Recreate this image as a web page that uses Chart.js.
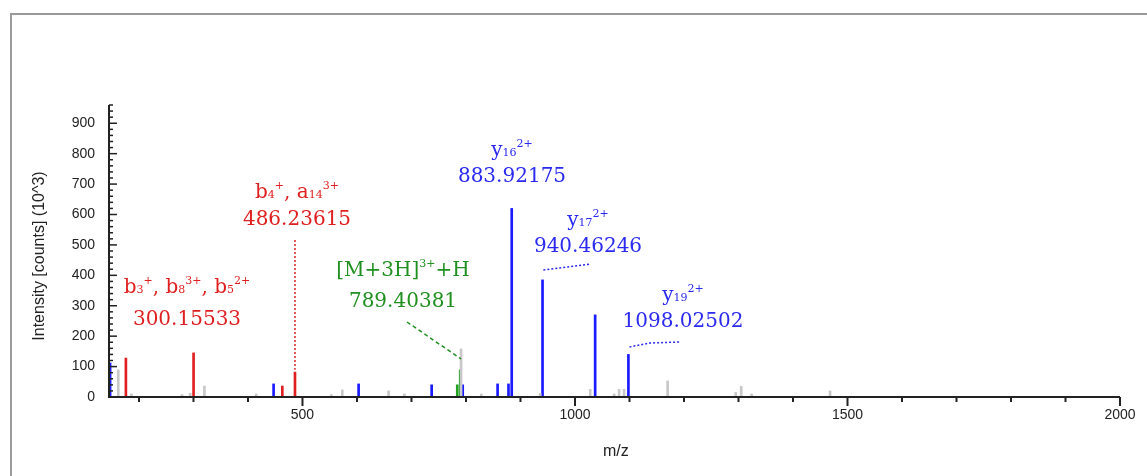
<!DOCTYPE html>
<html><head><meta charset="utf-8">
<script src="https://cdn.jsdelivr.net/npm/chart.js@4"></script>
<style>html,body{margin:0;padding:0;background:#fff}#wrap{width:1147px;height:476px;position:relative}</style>
</head><body><div id="wrap"><canvas id="c"></canvas></div>
<script>
const xTickLabels = [500, 1000, 1500, 2000];
const yTickLabels = [0,100,200,300,400,500,600,700,800,900];
const blueMz = [147, 447, 603, 737, 794, 858, 878, 883.92, 940.46, 1037, 1098.03];
const blueI  = [112, 43, 43, 40, 40, 43, 43, 620, 385, 270, 140];
const redMz  = [176, 300.16, 463, 486.24];
const redI   = [128, 145, 36, 82];
const greenMz = [784, 789.4];
const greenI  = [40, 89];
const grayMz = [162, 186, 279, 294, 320, 415, 553, 573, 658, 687, 791, 828, 936, 1028, 1072, 1081, 1090, 1170, 1295, 1305, 1324, 1468];
const grayI  = [89, 10, 8, 12, 36, 10, 8, 23, 20, 10, 158, 10, 12, 25, 10, 25, 25, 53, 15, 35, 10, 20];
const labels = [
  {mz:300.16, color:'#e02020', l1:[['b','3','+'],[', '],['b','8','3+'],[', '],['b','5','2+']], l2:'300.15533'},
  {mz:486.24, color:'#e02020', l1:[['b','4','+'],[', '],['a','14','3+']], l2:'486.23615'},
  {mz:789.4, color:'#209020', l1:[['[M+3H]','','3+'],['+H']], l2:'789.40381'},
  {mz:883.92, color:'#2a2af0', l1:[['y','16','2+']], l2:'883.92175'},
  {mz:940.46, color:'#2a2af0', l1:[['y','17','2+']], l2:'940.46246'},
  {mz:1098.03, color:'#2a2af0', l1:[['y','19','2+']], l2:'1098.02502'}
];
const toXY = (xs, ys) => xs.map((x,i)=>({x, y: ys[i]}));

const labelPlacement = [
  {cx:187, y1:285, y2:320},
  {cx:297, y1:190, y2:220},
  {cx:403, y1:268, y2:302},
  {cx:512, y1:148, y2:177},
  {cx:588, y1:218, y2:247},
  {cx:683, y1:293, y2:322}
];

const deco = {
  id:'deco',
  afterDraw(ch){
    const ctx = ch.ctx, xs = ch.scales.x, ys = ch.scales.y, a = ch.chartArea;
    ctx.save();
    ctx.strokeStyle='#9a9a9a'; ctx.lineWidth=2;
    ctx.beginPath(); ctx.moveTo(11,476); ctx.lineTo(11,14); ctx.lineTo(1147,14); ctx.stroke();
    ctx.strokeStyle='#222'; ctx.lineWidth=2;
    ctx.beginPath(); ctx.moveTo(a.left, a.top); ctx.lineTo(a.left, a.bottom); ctx.lineTo(a.right, a.bottom); ctx.stroke();
    for (let v=200; v<=2000; v+=100){
      const px = xs.getPixelForValue(v);
      const len = v%500===0 ? 9 : 5;
      ctx.beginPath(); ctx.moveTo(px, a.bottom); ctx.lineTo(px, a.bottom+len); ctx.stroke();
    }
    ctx.lineWidth=1.5;
    for (let v=0; v<=960; v+=20){
      const py = ys.getPixelForValue(v);
      const len = v%100===0 ? 8 : 4;
      ctx.beginPath(); ctx.moveTo(a.left, py); ctx.lineTo(a.left+len, py); ctx.stroke();
    }
    ctx.fillStyle='#222'; ctx.font='14px "Liberation Sans", Arial, sans-serif';
    ctx.textAlign='center'; ctx.textBaseline='top';
    xTickLabels.forEach(v=>ctx.fillText(String(v), xs.getPixelForValue(v), a.bottom+11));
    ctx.textAlign='right'; ctx.textBaseline='middle';
    yTickLabels.forEach(v=>ctx.fillText(String(v), a.left-14, ys.getPixelForValue(v)));
    ctx.font='16px "Liberation Sans", Arial, sans-serif';
    ctx.textAlign='center';
    ctx.fillText('m/z', xs.getPixelForValue(1075), 452);
    ctx.save(); ctx.translate(40, (a.top+a.bottom)/2+5); ctx.rotate(-Math.PI/2);
    ctx.fillText('Intensity [counts] (10^3)', 0, 0); ctx.restore();
    ctx.lineWidth=1.5;
    ctx.setLineDash([2,2]); ctx.strokeStyle='#e02020';
    ctx.beginPath(); ctx.moveTo(xs.getPixelForValue(486.24), 240); ctx.lineTo(xs.getPixelForValue(486.24), ys.getPixelForValue(90)); ctx.stroke();
    ctx.setLineDash([4,3]); ctx.strokeStyle='#209020';
    ctx.beginPath(); ctx.moveTo(407, 322); ctx.lineTo(xs.getPixelForValue(791), ys.getPixelForValue(125)); ctx.stroke();
    ctx.setLineDash([2,2]); ctx.strokeStyle='#2a2af0';
    ctx.beginPath(); ctx.moveTo(xs.getPixelForValue(942), 270); ctx.lineTo(568,267); ctx.lineTo(590,264); ctx.stroke();
    ctx.beginPath(); ctx.moveTo(xs.getPixelForValue(1100), 347); ctx.lineTo(650,343); ctx.lineTo(680,342); ctx.stroke();
    ctx.setLineDash([]);
    const big='20px "DejaVu Serif", serif', small='11px "DejaVu Serif", serif';
    labels.forEach((L,i)=>{
      const p = labelPlacement[i];
      ctx.fillStyle=L.color; ctx.textBaseline='alphabetic';
      let w=0;
      L.l1.forEach(seg=>{ ctx.font=big; w+=ctx.measureText(seg[0]).width;
        ctx.font=small; w+=ctx.measureText(seg[1]||'').width + ctx.measureText(seg[2]||'').width; });
      let x = p.cx - w/2; ctx.textAlign='left';
      L.l1.forEach(seg=>{
        ctx.font=big; ctx.fillText(seg[0], x, p.y1+8); x+=ctx.measureText(seg[0]).width;
        ctx.font=small;
        if (seg[1]) { ctx.fillText(seg[1], x, p.y1+8); x+=ctx.measureText(seg[1]).width; }
        if (seg[2]) { ctx.fillText(seg[2], x, p.y1-1); x+=ctx.measureText(seg[2]).width; }
      });
      ctx.font=big; ctx.textAlign='center'; ctx.textBaseline='middle';
      ctx.fillText(L.l2, p.cx, p.y2);
    });
    ctx.restore();
  }
};

const ds = (data, color, w) => ({data, backgroundColor:color, barThickness:w, borderWidth:0, grouped:false});
new Chart(document.getElementById('c'), {
  type:'bar',
  data:{datasets:[
    ds(toXY(grayMz, grayI), '#c8c8c8', 2),
    ds(toXY(greenMz, greenI), '#22a022', 2),
    ds(toXY(redMz, redI), '#e02020', 2),
    ds(toXY(blueMz, blueI), '#1a1aff', 2)
  ]},
  options:{
    responsive:true, maintainAspectRatio:false, animation:false,
    layout:{padding:{left:109, right:27, top:105, bottom:79}},
    plugins:{legend:{display:false}, tooltip:{enabled:false}},
    scales:{
      x:{type:'linear', min:145, max:2000, display:false, offset:false},
      y:{min:0, max:960, display:false}
    }
  },
  plugins:[deco]
});
</script></body></html>
